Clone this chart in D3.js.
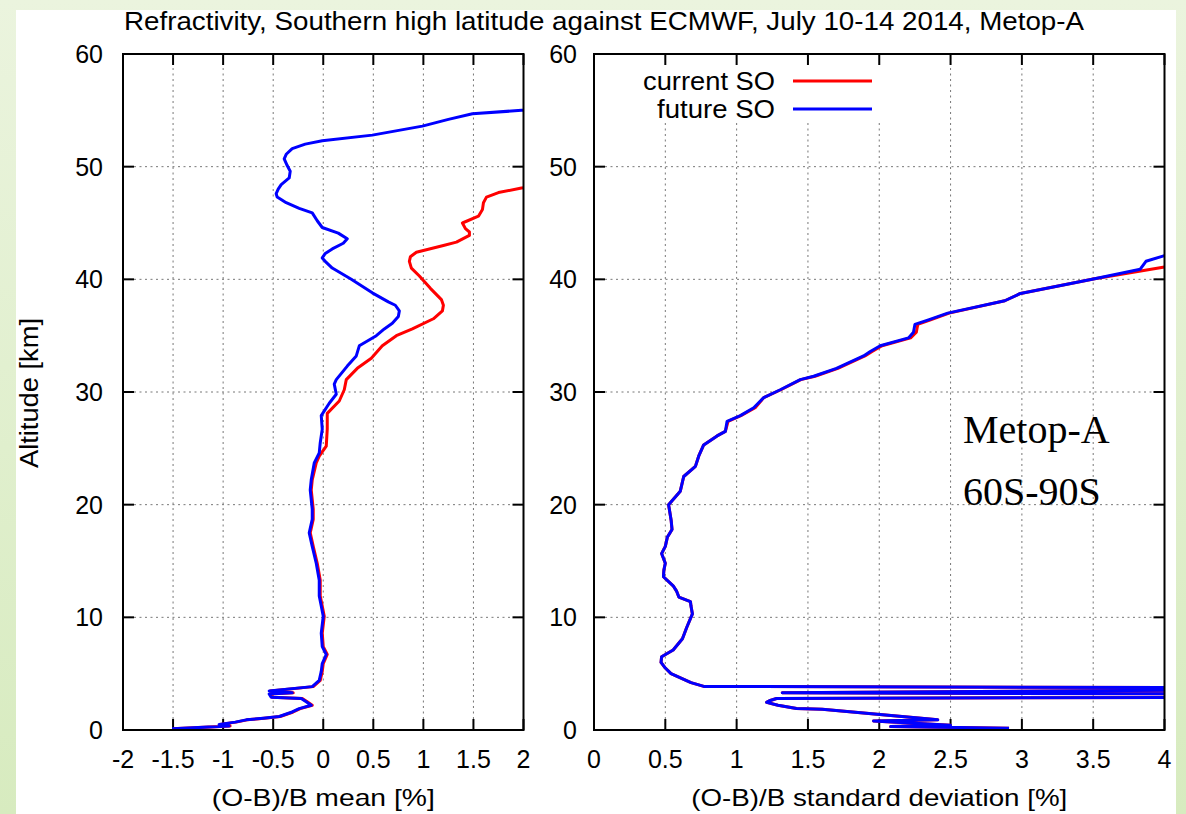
<!DOCTYPE html>
<html lang="en">
<head>
    <meta charset="UTF-8">
    <title>Refractivity O-B</title>
    <script src="https://d3js.org/d3.v7.min.js"></script>
    <style>
        html, body { margin: 0; padding: 0; }
        text { font-family: 'Liberation Sans', Arial, sans-serif; fill: #000; }
        .tick-label { font-size: 25px; }
        .grid { stroke: #777; stroke-width: 1; stroke-dasharray: 2,3.5; }
        .frame { fill: none; stroke: #000; stroke-width: 2; }
        .tick { stroke: #000; stroke-width: 2; }
        .curve { fill: none; stroke-width: 3; stroke-linejoin: round; }
    </style>
</head>
<body>
<script>
    const width  = 1186;
    const height = 814;

    // left panel: (O-B)/B mean [%] against altitude [km]
    const meanFutureAlt = [0.1, 0.35, 0.5, 0.7, 0.9, 1.05, 1.2, 1.6, 1.9, 2.2, 2.5, 2.8, 2.9, 3.2, 3.3, 3.47, 3.85, 4.4, 5.2, 5.9, 6.7, 7.4, 8.6, 10.1, 11.0, 11.9, 13.3, 14.8, 16.3, 17.5, 18.7, 19.6, 21.3, 22.2, 23.7, 24.6, 25.5, 26.7, 27.9, 29.0, 29.8, 30.7, 31.1, 32.3, 33.2, 34.1, 35.0, 35.6, 36.1, 36.7, 37.2, 37.7, 38.0, 38.8, 40.0, 41.0, 41.5, 41.9, 42.3, 42.7, 43.2, 43.6, 44.1, 44.6, 45.2, 45.9, 46.3, 46.8, 47.3, 47.6, 48.0, 48.4, 49.0, 49.6, 50.1, 50.7, 51.1, 51.6, 52.0, 52.3, 52.8, 53.6, 54.2, 54.7, 55.0, 55.3];
    const meanFutureVal = [-1.51, -0.94, -1.04, -0.88, -0.77, -0.6, -0.44, -0.31, -0.24, -0.12, -0.17, -0.22, -0.52, -0.54, -0.31, -0.54, -0.11, -0.04, -0.02, -0.01, 0.03, -0.01, -0.02, 0.0, -0.02, -0.04, -0.04, -0.07, -0.11, -0.14, -0.11, -0.11, -0.13, -0.12, -0.09, -0.04, -0.03, -0.01, -0.02, 0.06, 0.13, 0.11, 0.13, 0.24, 0.33, 0.36, 0.53, 0.61, 0.69, 0.75, 0.76, 0.72, 0.65, 0.49, 0.28, 0.09, 0.03, -0.01, 0.02, 0.09, 0.2, 0.24, 0.15, -0.01, -0.06, -0.11, -0.24, -0.37, -0.46, -0.47, -0.45, -0.42, -0.34, -0.33, -0.36, -0.39, -0.37, -0.31, -0.18, -0.01, 0.49, 0.99, 1.25, 1.49, 1.98, 2.4];

    const meanCurrentAlt = [0.1, 0.35, 0.5, 0.7, 0.9, 1.05, 1.2, 1.6, 1.9, 2.2, 2.5, 2.8, 2.9, 3.2, 3.3, 3.47, 3.85, 4.4, 5.2, 5.9, 6.7, 7.4, 8.6, 10.1, 11.0, 11.9, 13.3, 14.8, 16.3, 17.5, 18.7, 19.6, 21.3, 22.2, 23.7, 24.3, 25.2, 26.7, 28.1, 29.2, 30.2, 31.1, 32.1, 33.0, 34.1, 35.0, 35.6, 36.5, 37.2, 37.7, 38.2, 39.2, 40.3, 41.0, 41.6, 42.0, 42.4, 43.0, 43.3, 43.9, 44.2, 44.5, 45.0, 45.6, 46.2, 46.8, 47.3, 47.7, 48.1, 48.4];
    const meanCurrentVal = [-1.50, -0.93, -1.03, -0.87, -0.76, -0.59, -0.43, -0.30, -0.23, -0.11, -0.16, -0.21, -0.51, -0.53, -0.30, -0.53, -0.10, -0.03, -0.01, 0.0, 0.04, 0.0, -0.01, 0.01, -0.01, -0.03, -0.03, -0.06, -0.10, -0.13, -0.10, -0.10, -0.12, -0.11, -0.07, -0.04, 0.03, 0.04, 0.04, 0.16, 0.21, 0.23, 0.34, 0.48, 0.59, 0.73, 0.89, 1.1, 1.19, 1.2, 1.18, 1.07, 0.96, 0.88, 0.86, 0.87, 0.93, 1.2, 1.33, 1.46, 1.46, 1.42, 1.39, 1.55, 1.59, 1.60, 1.63, 1.75, 1.98, 2.3];

    // right panel: (O-B)/B standard deviation [%] against altitude [km]
    const sdFutureAlt = [0.15, 0.3, 0.42, 0.8, 0.9, 1.84, 1.9, 2.2, 2.45, 2.6, 2.8, 2.95, 3.15, 3.3, 3.7, 3.87, 4.2, 4.6, 5.0, 5.5, 6.0, 6.5, 7.1, 8.1, 9.1, 10.3, 11.0, 11.4, 11.8, 12.3, 12.8, 13.6, 14.2, 14.8, 15.66, 16.3, 17.1, 17.8, 18.6, 20.0, 21.2, 22.5, 23.4, 24.3, 25.3, 26.1, 26.5, 27.4, 27.9, 28.6, 29.5, 30.2, 31.1, 31.4, 32.1, 33.2, 33.6, 34.1, 34.8, 35.3, 36.0, 36.4, 37.0, 38.1, 38.75, 40.05, 40.9, 41.6, 42.1, 42.5];
    const sdFutureVal = [2.91, 2.08, 2.50, 1.96, 2.41, 1.60, 1.42, 1.29, 1.21, 1.23, 1.28, 6.0, 6.0, 1.32, 6.0, 0.77, 0.68, 0.61, 0.54, 0.50, 0.47, 0.474, 0.555, 0.62, 0.65, 0.69, 0.68, 0.676, 0.595, 0.58, 0.555, 0.487, 0.49, 0.50, 0.474, 0.50, 0.514, 0.547, 0.541, 0.523, 0.605, 0.629, 0.711, 0.734, 0.769, 0.863, 0.921, 0.933, 1.026, 1.12, 1.19, 1.306, 1.446, 1.54, 1.70, 1.89, 1.937, 2.007, 2.205, 2.24, 2.25, 2.345, 2.48, 2.88, 2.99, 3.51, 3.83, 3.87, 4.0, 4.3];

    const sdCurrentAlt = [0.15, 0.3, 0.42, 0.8, 0.9, 1.84, 1.9, 2.2, 2.45, 2.6, 2.8, 2.95, 3.15, 3.3, 3.7, 3.87, 4.2, 4.6, 5.0, 5.5, 6.0, 6.5, 7.1, 8.1, 9.1, 10.3, 11.0, 11.4, 11.8, 12.3, 12.8, 13.6, 14.2, 14.8, 15.66, 16.3, 17.1, 17.8, 18.6, 20.0, 21.2, 22.5, 23.4, 24.3, 25.3, 26.1, 26.5, 27.4, 27.9, 28.6, 29.5, 30.2, 31.1, 31.4, 32.1, 33.2, 33.6, 34.1, 34.8, 35.3, 36.0, 36.4, 37.0, 38.1, 38.75, 40.05, 41.1, 41.5];
    const sdCurrentVal = [2.91, 2.08, 2.50, 1.96, 2.41, 1.60, 1.42, 1.29, 1.21, 1.23, 1.28, 6.0, 6.0, 1.32, 6.0, 0.77, 0.68, 0.61, 0.54, 0.50, 0.47, 0.474, 0.555, 0.62, 0.65, 0.69, 0.68, 0.676, 0.595, 0.58, 0.555, 0.487, 0.49, 0.50, 0.474, 0.50, 0.514, 0.547, 0.541, 0.523, 0.605, 0.629, 0.711, 0.734, 0.769, 0.863, 0.921, 0.94, 1.03, 1.13, 1.19, 1.31, 1.45, 1.55, 1.71, 1.90, 1.95, 2.02, 2.22, 2.26, 2.27, 2.36, 2.49, 2.88, 2.99, 3.51, 4.0, 4.3];

    const yTicks = [0, 10, 20, 30, 40, 50, 60];
    const meanTicks = [-2, -1.5, -1, -0.5, 0, 0.5, 1, 1.5, 2];
    const sdTicks = [0, 0.5, 1, 1.5, 2, 2.5, 3, 3.5, 4];
    const seriesNames = ["current SO", "future SO"];
    const seriesColors = ["#ff0000", "#0000ff"];

    const svg = d3.select("body").append("svg")
        .attr("width", width).attr("height", height);

    const defs = svg.append("defs");
    const grad = defs.append("linearGradient").attr("id", "bg")
        .attr("x1", 0).attr("y1", 0).attr("x2", 0).attr("y2", 1);
    grad.append("stop").attr("offset", "0%").attr("stop-color", "#ebf4de");
    grad.append("stop").attr("offset", "100%").attr("stop-color", "#d7ebbf");

    svg.append("rect").attr("width", width).attr("height", height).attr("fill", "url(#bg)");
    svg.append("rect").attr("x", 16).attr("y", 10).attr("width", 1160).attr("height", height - 10)
        .attr("fill", "#fff");

    const y = d3.scaleLinear().domain([0, 60]).range([730, 54]);

    function panel(id, x, xTicks, series, xTitle, xTitleLen, yLabelX, legend) {
        const [x0, x1] = x.range();
        const g = svg.append("g");

        defs.append("clipPath").attr("id", id)
            .append("rect").attr("x", x0).attr("y", y(60)).attr("width", x1 - x0).attr("height", y(0) - y(60));

        // dotted grid
        const gridTop = legend ? 123 : y(60);
        g.selectAll(".gx").data(xTicks.slice(1, -1)).enter().append("line")
            .attr("class", "grid")
            .attr("x1", d => x(d)).attr("x2", d => x(d))
            .attr("y1", y(0)).attr("y2", d => (legend && x(d) < 880) ? gridTop : y(60));
        g.selectAll(".gy").data(yTicks.slice(1, -1)).enter().append("line")
            .attr("class", "grid")
            .attr("x1", x0).attr("x2", x1)
            .attr("y1", d => y(d)).attr("y2", d => y(d));

        // ticks on all four sides
        g.selectAll(".tb").data(xTicks).enter().append("line").attr("class", "tick")
            .attr("x1", d => x(d)).attr("x2", d => x(d)).attr("y1", y(0)).attr("y2", y(0) - 11);
        g.selectAll(".tt").data(xTicks).enter().append("line").attr("class", "tick")
            .attr("x1", d => x(d)).attr("x2", d => x(d)).attr("y1", y(60)).attr("y2", y(60) + 11);
        g.selectAll(".tl").data(yTicks).enter().append("line").attr("class", "tick")
            .attr("x1", x0).attr("x2", x0 + 11).attr("y1", d => y(d)).attr("y2", d => y(d));
        g.selectAll(".tr").data(yTicks).enter().append("line").attr("class", "tick")
            .attr("x1", x1).attr("x2", x1 - 11).attr("y1", d => y(d)).attr("y2", d => y(d));

        // tick labels
        g.selectAll(".lx").data(xTicks).enter().append("text").attr("class", "tick-label")
            .attr("x", d => x(d)).attr("y", 768).attr("text-anchor", "middle")
            .text(d => d);
        g.selectAll(".ly").data(yTicks).enter().append("text").attr("class", "tick-label")
            .attr("x", yLabelX).attr("y", d => y(d) + 9).attr("text-anchor", "end")
            .text(d => d);

        g.append("text").attr("x", (x0 + x1) / 2).attr("y", 806).attr("text-anchor", "middle")
            .attr("textLength", xTitleLen).attr("lengthAdjust", "spacingAndGlyphs")
            .style("font-size", "24px").text(xTitle);

        // curves
        const line = d3.line().x(d => x(d[1])).y(d => y(d[0]));
        const curves = g.append("g").attr("clip-path", `url(#${id})`);
        series.forEach((s, i) => {
            curves.append("path").attr("class", "curve")
                .attr("stroke", seriesColors[i])
                .attr("d", line(d3.zip(s[0], s[1])));
        });

        if (legend) {
            const lg = g.append("g");
            lg.append("rect").attr("x", x0 + 2).attr("y", y(60) + 12).attr("width", 880 - x0).attr("height", 55)
                .attr("fill", "#fff");
            const lens = [132, 118];
            seriesNames.forEach((n, i) => {
                const ly = 81 + i * 28;
                lg.append("text").attr("x", 775).attr("y", ly + 9).attr("text-anchor", "end")
                    .attr("textLength", lens[i]).attr("lengthAdjust", "spacingAndGlyphs")
                    .style("font-size", "25px").text(n);
                lg.append("line").attr("x1", 793).attr("x2", 872).attr("y1", ly).attr("y2", ly)
                    .attr("stroke", seriesColors[i]).attr("stroke-width", 3);
            });
        }

        g.append("rect").attr("class", "frame")
            .attr("x", x0).attr("y", y(60)).attr("width", x1 - x0).attr("height", y(0) - y(60));
    }

    const xMean = d3.scaleLinear().domain([-2, 2]).range([123, 523.5]);
    const xSd = d3.scaleLinear().domain([0, 4]).range([594, 1164.5]);

    panel("clipMean", xMean, meanTicks,
        [[meanCurrentAlt, meanCurrentVal], [meanFutureAlt, meanFutureVal]],
        "(O-B)/B mean [%]", 223, 103, false);
    panel("clipSd", xSd, sdTicks,
        [[sdCurrentAlt, sdCurrentVal], [sdFutureAlt, sdFutureVal]],
        "(O-B)/B standard deviation [%]", 376, 577, true);

    svg.append("text").attr("x", 604).attr("y", 30).attr("text-anchor", "middle")
        .attr("textLength", 960).attr("lengthAdjust", "spacingAndGlyphs")
        .style("font-size", "25px")
        .text("Refractivity, Southern high latitude against ECMWF, July 10-14 2014, Metop-A");

    svg.append("text").attr("transform", "translate(38,393) rotate(-90)")
        .attr("text-anchor", "middle").attr("textLength", 150).attr("lengthAdjust", "spacingAndGlyphs")
        .style("font-size", "26px").text("Altitude [km]");

    const note = svg.append("g").style("font-family", "'Liberation Serif', 'Times New Roman', serif")
        .style("font-size", "40px");
    note.append("text").attr("x", 963).attr("y", 443).style("font-family", "inherit").text("Metop-A");
    note.append("text").attr("x", 963).attr("y", 505).style("font-family", "inherit").text("60S-90S");
</script>
</body>
</html>
